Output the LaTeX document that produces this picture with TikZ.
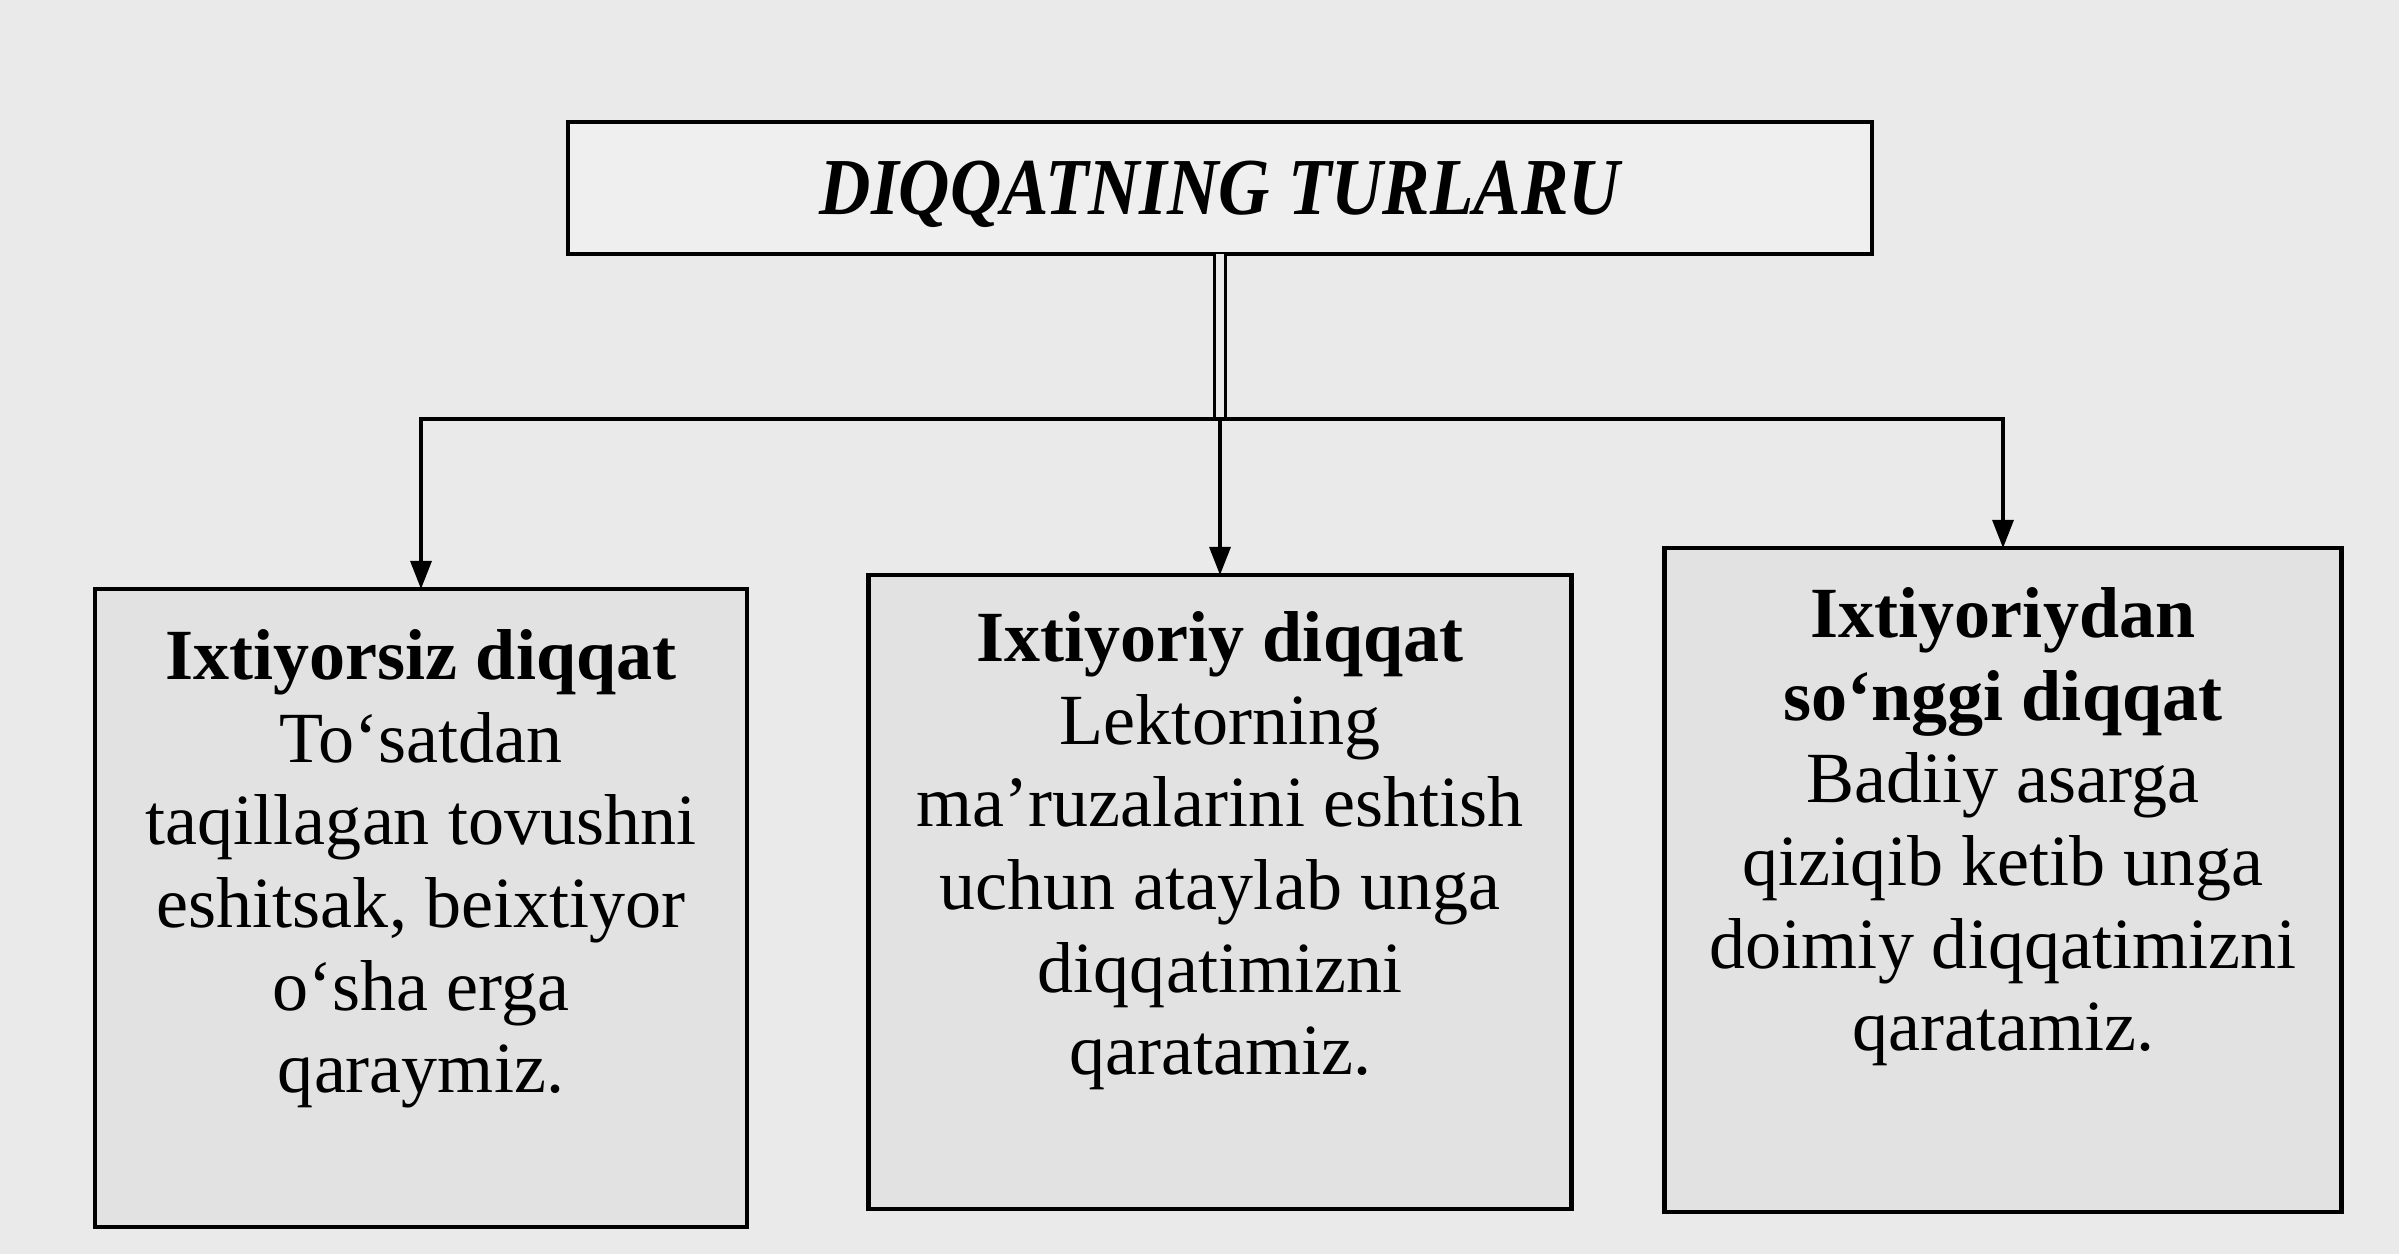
\documentclass[tikz,border=0pt]{standalone}
\usepackage{fontspec}
\setmainfont{Liberation Serif}
\usetikzlibrary{arrows.meta}
\definecolor{bg}{HTML}{EAEAEA}
\definecolor{boxfill}{HTML}{E2E2E2}
\definecolor{topfill}{HTML}{EFEFEF}
\begin{document}
\begin{tikzpicture}[
  frame/.style={draw=black, line width=1.3pt, fill=boxfill, inner sep=0pt, outer sep=0pt},
  body/.style={anchor=north, align=center, inner sep=0pt, font=\fontsize{20.5}{23.5}\selectfont},
  conn/.style={line width=0.9pt},
  arr/.style={conn, -{Triangle[length=8pt,width=6pt]}},
]
\fill[bg] (0,0) rectangle (23.99,-12.54);
\useasboundingbox (0,0) rectangle (23.99,-12.54);

\node[frame, fill=topfill, minimum width=13.04cm, minimum height=1.32cm] (top) at (12.2,-1.88) {};
\node[anchor=base, inner sep=0pt] (title) at (12.2,-2.15)
  {\scalebox{0.88}[1]{\fontsize{23}{27}\selectfont\bfseries\itshape DIQQATNING TURLARU}};

\node[frame, minimum width=6.52cm, minimum height=6.38cm] (b1) at (4.21,-9.08) {};
\node[frame, minimum width=7.03cm, minimum height=6.34cm] (b2) at (12.2,-8.92) {};
\node[frame, minimum width=6.77cm, minimum height=6.64cm] (b3) at (20.03,-8.80) {};

\node[body] (t1) at ([yshift=-0.40cm]b1.north)
  {\textbf{Ixtiyorsiz diqqat}\\To‘satdan\\taqillagan tovushni\\eshitsak, beixtiyor\\o‘sha erga\\qaraymiz.};
\node[body] (t2) at ([yshift=-0.36cm]b2.north)
  {\textbf{Ixtiyoriy diqqat}\\Lektorning\\ma’ruzalarini eshtish\\uchun ataylab unga\\diqqatimizni\\qaratamiz.};
\node[body] (t3) at ([yshift=-0.39cm]b3.north)
  {\textbf{Ixtiyoriydan}\\\textbf{so‘nggi diqqat}\\Badiiy asarga\\qiziqib ketib unga\\doimiy diqqatimizni\\qaratamiz.};

\coordinate (j) at (12.2,-4.19);
\draw[conn, double=bg, double distance=2.4pt] (top.south) -- (j);
\draw[arr] (j) -| (b1.north);
\draw[arr] (j) -- (b2.north);
\draw[arr] (j) -| (b3.north);
\end{tikzpicture}
\end{document}
